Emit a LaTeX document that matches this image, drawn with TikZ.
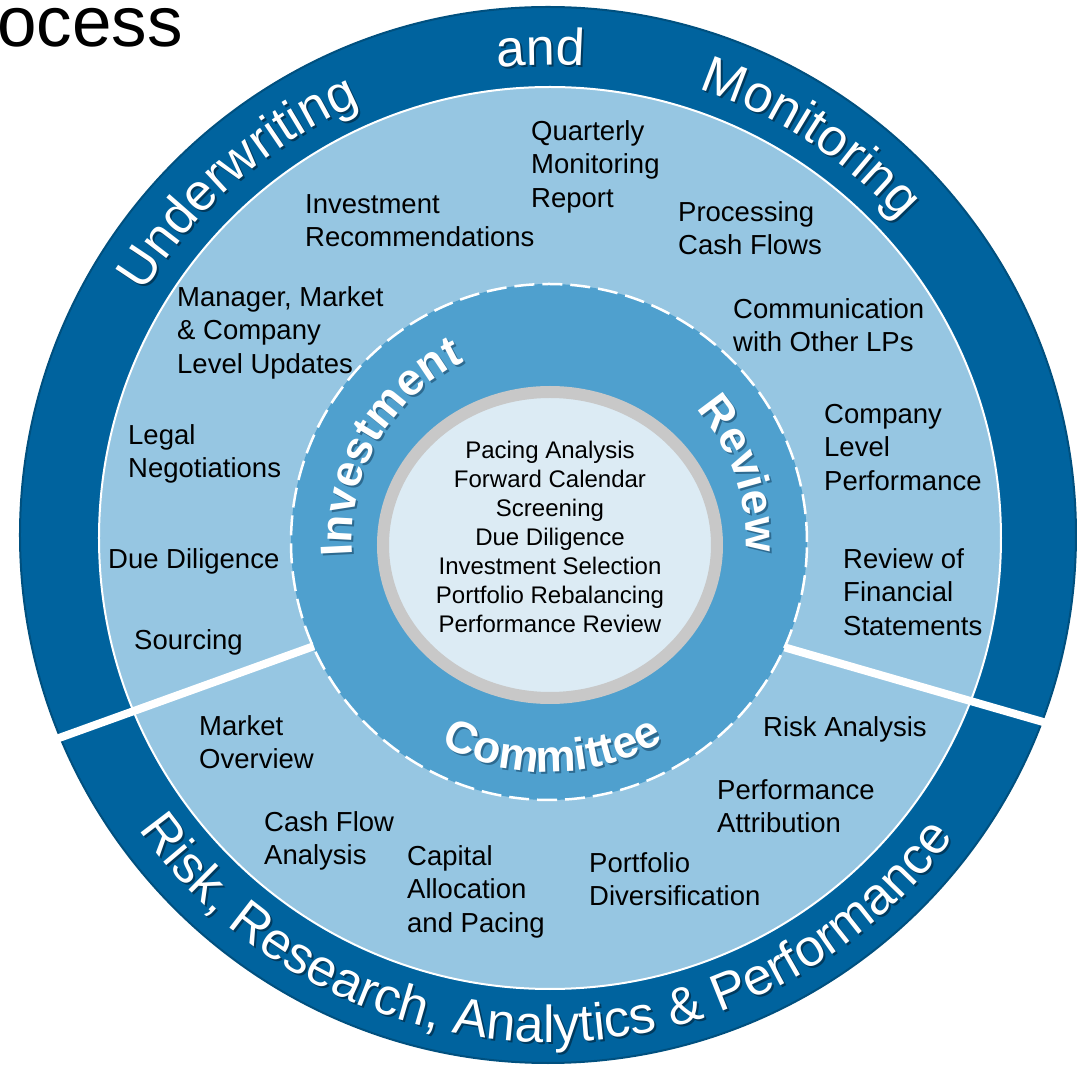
\documentclass[tikz,border=0pt]{standalone}
\usepackage{fontspec}
\setmainfont{Liberation Sans}
\usetikzlibrary{decorations.text}

\definecolor{bandblue}{HTML}{00639E}
\definecolor{bandedge}{HTML}{00507F}
\definecolor{bandshade}{HTML}{003A5E}
\definecolor{ringblue}{HTML}{96C6E2}
\definecolor{midblue}{HTML}{4FA0CE}
\definecolor{midshade}{HTML}{2D6A90}
\definecolor{coregray}{HTML}{C8C8C8}
\definecolor{corefill}{HTML}{DCEBF4}

\newcommand{\bandfont}{\fontsize{52}{60}\selectfont}
\newcommand{\midfont}{\bfseries\fontsize{45}{52}\selectfont}
\newcommand{\itemfont}{\fontsize{27.5}{33.5}\selectfont}
\newcommand{\corefont}{\fontsize{24}{29}\selectfont}

\begin{document}
\begin{tikzpicture}[x=1pt, y=1pt,
    item/.style={anchor=north west, align=left, inner sep=0pt, font=\itemfont},
    split/.style={white, line width=8pt}]
  \useasboundingbox (-549,-530) rectangle (528,540);

  % title, cut off at the page edge
  \node[anchor=base west, inner sep=0pt, font=\fontsize{71}{80}\selectfont] (title) at (-552,493) {ocess};

  % rings, outside in
  \filldraw[fill=bandblue, draw=bandedge, line width=2pt] (-1,5) circle[radius=528];
  \filldraw[fill=ringblue, draw=white, line width=2pt] (1,2) circle[radius=451];
  \filldraw[fill=midblue, draw=white, line width=2.5pt, dash pattern=on 20pt off 8pt] (0,-2) circle[radius=258];

  % white splits between upper and lower half
  \draw[split] (204.3:258) -- (202:529);
  \draw[split] (-24.5:259) -- (-20.2:529);

  % core
  \filldraw[fill=corefill, draw=coregray, line width=12pt] (1,-5) ellipse[x radius=167, y radius=153];
  \node[anchor=north, align=center, inner sep=0pt, font=\corefont] (core) at (1,99)
    {Pacing Analysis\\Forward Calendar\\Screening\\Due Diligence\\Investment Selection\\Portfolio Rebalancing\\Performance Review};

  % lettering on the outer band and the middle ring, shadow first
  \foreach \dx/\col/\mcol in {2/bandshade/midshade, 0/white/white} {
    \begin{scope}[xshift=\dx, yshift=-\dx]
      \path[decorate, decoration={text along path, text align=center,
          text={|\bandfont\color{\col}|Underwriting}}]
        (156:475) arc[start angle=156, end angle=106, radius=475];
      \path[decorate, decoration={text along path, text align=center,
          text={|\bandfont\color{\col}|and}}]
        (111:475) arc[start angle=111, end angle=71, radius=475];
      \path[decorate, decoration={text along path, text align=center,
          text={|\bandfont\color{\col}|Monitoring}}]
        (82:475) arc[start angle=82, end angle=32, radius=475];
      \path[decorate, decoration={text along path, text align=center,
          text={|\bandfont\color{\col}|Risk, Research, Analytics {\&} Performance}}]
        (205:502) arc[start angle=205, end angle=334, radius=502];

      \path[decorate, decoration={text along path, text align=center,
          text={|\midfont\color{\mcol}|Investment}}]
        (193:197) arc[start angle=193, end angle=107, radius=197];
      \path[decorate, decoration={text along path, text align=center,
          text={|\midfont\color{\mcol}|Review}}]
        (49:197) arc[start angle=49, end angle=-11, radius=197];
      \path[decorate, decoration={text along path, text align=center,
          text={|\midfont\color{\mcol}|Committee}}]
        (236:232) arc[start angle=236, end angle=306, radius=232];
    \end{scope}
  }

  % upper half
  \node[item] (quarterly) at (-18,420) {Quarterly\\Monitoring\\Report};
  \node[item] (recommend) at (-244,346) {Investment\\Recommendations};
  \node[item] (cashproc) at (129,339) {Processing\\Cash Flows};
  \node[item] (updates) at (-372,254) {Manager, Market\\\& Company\\Level Updates};
  \node[item] (otherlps) at (184,242) {Communication\\with Other LPs};
  \node[item] (legal) at (-421,116) {Legal\\Negotiations};
  \node[item] (company) at (275,136) {Company\\Level\\Performance};
  \node[item] (diligence) at (-441,-8) {Due Diligence};
  \node[item] (financials) at (294,-8) {Review of\\Financial\\Statements};
  \node[item] (sourcing) at (-415,-89) {Sourcing};

  % lower half
  \node[item] (market) at (-350,-175) {Market\\Overview};
  \node[item] (risk) at (214,-176) {Risk Analysis};
  \node[item] (attrib) at (168,-239) {Performance\\Attribution};
  \node[item] (cashflow) at (-285,-271) {Cash Flow\\Analysis};
  \node[item] (capital) at (-142,-305) {Capital\\Allocation\\and Pacing};
  \node[item] (diversify) at (40,-312) {Portfolio\\Diversification};
\end{tikzpicture}
\end{document}
